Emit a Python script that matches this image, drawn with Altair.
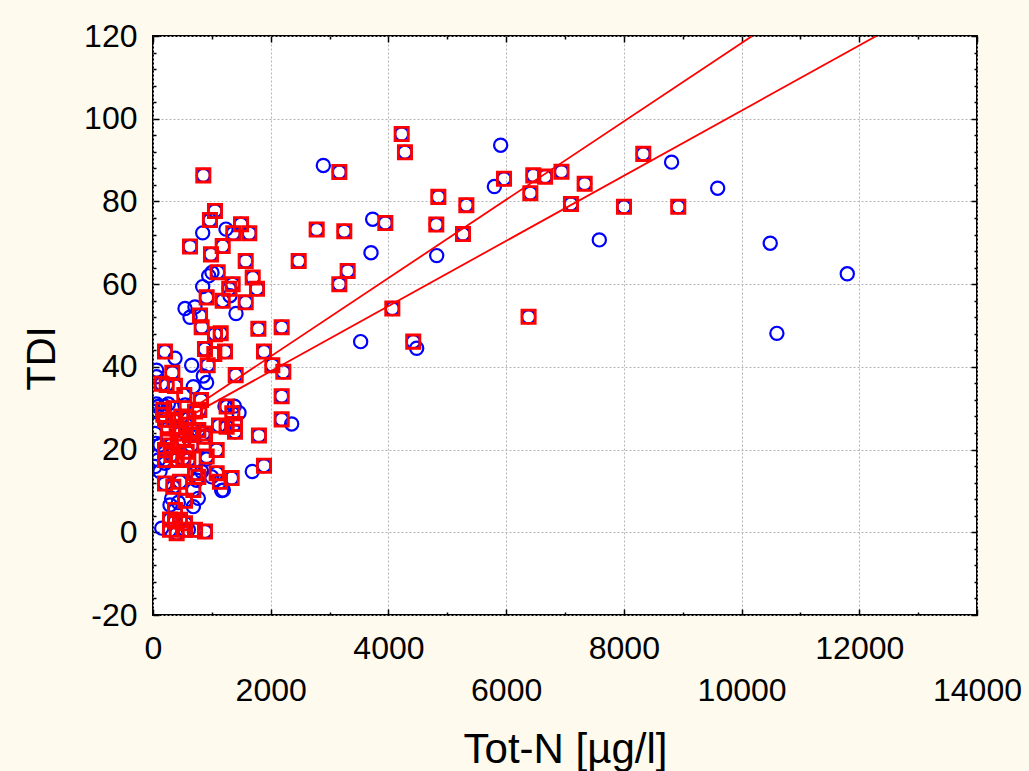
import altair as alt
import pandas as pd

# ---- data ----
# red squares (each one also carries a blue circle)
sq_x = [4225, 4281, 3166, 5964, 6461, 6661, 6940, 6411, 4848, 5324, 3947, 2781, 3250, 4813, 5267,
        2475, 3307, 3166, 4066, 6381, 2186, 1790, 4422, 1886, 2027, 2214, 2186, 2186, 1800, 1886,
        1767, 7334, 7101, 8330, 8002, 8924,
        855, 1053, 968, 1495, 1364, 1636, 629, 1184, 985, 1575, 1099, 1694, 1353, 1295, 912, 1184,
        1575, 799, 827, 1053, 1150,
        204, 883, 1042, 1223, 929, 1405, 328, 147, 232, 374, 532, 815, 714, 787, 1251, 1347, 1121,
        1251, 1393, 1393,
        175, 175, 204, 345, 402, 260, 459, 515, 629, 685, 770, 855, 883, 204, 317, 402, 515, 600,
        572, 204, 204, 345, 459, 685, 912, 1082, 1082, 1138, 1336, 714, 770, 544, 374, 289, 374,
        459, 544, 289, 402, 544, 714, 883,
        300, 420, 560, 650, 480, 250, 600, 350]
sq_y = [96.3, 91.9, 87.1, 85.5, 86.3, 86.0, 87.2, 82.0, 81.1, 79.1, 74.8, 73.2, 72.8, 74.4, 72.1,
        65.6, 63.2, 60.0, 54.1, 52.1, 49.6, 49.2, 46.1, 43.7, 40.4, 38.8, 32.9, 27.3, 23.4, 16.1,
        58.9, 84.3, 79.4, 91.5, 78.7, 78.7,
        86.3, 77.7, 75.5, 74.5, 72.3, 72.3, 69.1, 69.2, 67.2, 65.6, 62.9, 61.6, 60.0, 58.9, 56.8, 56.0,
        55.6, 52.4, 49.6, 47.9, 48.1,
        43.7, 44.3, 43.1, 43.7, 40.4, 38.0, 38.6, 35.9, 35.6, 35.4, 33.2, 32.0, 29.2, 29.6, 30.4, 28.8, 25.8,
        25.5, 26.2, 24.3,
        29.6, 28.4, 27.2, 27.2, 25.5, 25.1, 23.9, 22.3, 23.5, 24.7, 24.7, 23.9, 23.1, 19.9, 18.7, 17.5, 17.9, 17.5,
        19.5, 17.5, 11.8, 11.0, 12.2, 10.2, 18.3, 19.9, 14.3, 12.2, 13.1, 14.3, 13.4, 7.6, 5.4, 3.1, 2.6,
        3.0, 2.2, 0.6, -0.2, 0.6, 0.6, 0.2,
        21.0, 21.5, 26.0, 21.0, 28.0, 22.5, 27.5, 30.0]

# blue circles only
ci_x = [5907, 2894, 5800, 3732, 3704, 4820, 3528, 4480, 2356, 8811, 9594, 7583, 10487, 11796, 10600,
        844, 1240, 1002, 946, 844, 1308, 544, 713, 629, 1410,
        374, 657, 62, 855, 911, 685, 62, 544, 1223, 1382, 1461,
        911, 1687, 1167, 827, 742, 119, 204, 317, 289, 430, 685, 770, 148, 600,
        90, 147, 34, 34, 119, 90, 34, 996, 1195, 60, 200, 260, 50]
ci_y = [93.6, 88.7, 83.6, 75.7, 67.6, 66.9, 46.1, 44.5, 26.2, 89.5, 83.2, 70.7, 69.9, 62.5, 48.1,
        72.4, 73.3, 62.8, 62.0, 59.4, 57.2, 54.1, 54.5, 52.0, 52.9,
        42.1, 40.4, 39.2, 37.8, 36.2, 35.2, 37.6, 30.8, 30.5, 30.5, 28.9,
        17.7, 14.7, 10.1, 14.7, 12.6, 14.7, 16.7, 8.2, 6.6, 7.2, 6.2, 8.2, 1.0, 0.6,
        30.4, 29.6, 29.2, 23.9, 21.1, 17.5, 15.9, 13.4, 10.2, 31.0, 30.5, 31.0, 21.5]

# two regression lines (end points)
line_a_x = [560, 10180]
line_a_y = [28.9, 120]
line_b_x = [560, 12290]
line_b_y = [27.6, 120]

x_major = list(range(0, 14001, 2000))
x_minor = list(range(1000, 14000, 2000))
y_major = list(range(-20, 121, 20))
y_minor = [v for v in range(-20, 121, 4) if v % 20 != 0]

# ---- tables ----
circles = pd.DataFrame({"x": sq_x + ci_x, "y": sq_y + ci_y})
squares = pd.DataFrame({"x": sq_x, "y": sq_y})
lines = pd.DataFrame({
    "x": line_a_x + line_b_x,
    "y": line_a_y + line_b_y,
    "g": ["a"] * len(line_a_x) + ["b"] * len(line_b_x),
})

W, H = 824, 579
FONT = "Liberation Sans"
xs = alt.Scale(domain=[0, 14000], nice=False, zero=False)
ys = alt.Scale(domain=[-20, 120], nice=False, zero=False)


def tick_axis(orient, offset, values, size):
    return alt.Axis(orient=orient, offset=offset, values=values, labels=False, ticks=True,
                    tickSize=size, tickColor="black", tickWidth=1.5, domain=False, grid=False,
                    title=None)


grid_common = dict(grid=True, gridColor="#b4b4b4", gridDash=[2, 2], gridWidth=1)

ax_x1 = alt.Axis(orient="bottom", values=x_major, ticks=False, tickSize=0, domain=False,
                 labelExpr="datum.value % 4000 == 0 ? '' + datum.value : ''",
                 labelFont=FONT, labelFontSize=32, labelColor="black", labelPadding=18,
                 labelFlush=False, labelOverlap=False,
                 title="Tot-N [µg/l]", titleFont=FONT, titleFontSize=42, titleFontWeight="normal",
                 titleColor="black", titleX=412, titleY=147, titleAlign="center",
                 titleBaseline="alphabetic", **grid_common)
ax_x2 = alt.Axis(orient="bottom", values=x_major, ticks=False, tickSize=0, domain=False, grid=False,
                 labelExpr="datum.value % 4000 == 2000 ? '' + datum.value : ''",
                 labelFont=FONT, labelFontSize=32, labelColor="black", labelPadding=60,
                 labelFlush=False, labelOverlap=False, title=None)
ax_y1 = alt.Axis(orient="left", values=y_major, ticks=False, tickSize=0, domain=False,
                 labelExpr="'' + datum.value",
                 labelFont=FONT, labelFontSize=32, labelColor="black", labelPadding=16,
                 labelFlush=False, labelOverlap=False,
                 title="TDI", titleFont=FONT, titleFontSize=40, titleFontWeight="normal",
                 titleColor="black", titleAngle=270, titleX=-111, titleY=322, titleAlign="center",
                 titleBaseline="middle", **grid_common)

base_circ = alt.Chart(circles)

layer_circles = base_circ.mark_point(shape="circle", filled=False, size=175, strokeWidth=2.2,
                                     color="#0000ff", opacity=1, clip=True).encode(
    x=alt.X("x:Q", scale=xs, axis=ax_x1),
    y=alt.Y("y:Q", scale=ys, axis=ax_y1),
)

layer_squares = alt.Chart(squares).mark_point(shape="square", filled=False, size=175, strokeWidth=2.8,
                                              color="#ff0000", opacity=1, clip=True).encode(
    x=alt.X("x:Q", scale=xs, axis=ax_x2),
    y=alt.Y("y:Q", scale=ys, axis=tick_axis("right", -W, y_major, 6)),
)

layer_lines = alt.Chart(lines).mark_line(color="#ff0000", strokeWidth=1.8, clip=True).encode(
    x=alt.X("x:Q", scale=xs, axis=tick_axis("top", -H, x_major, 6)),
    y=alt.Y("y:Q", scale=ys, axis=tick_axis("right", -W, y_minor, 3)),
    detail="g:N",
)

dummy1 = base_circ.mark_point(opacity=0).encode(
    x=alt.X("x:Q", scale=xs, axis=tick_axis("top", -H, x_minor, 3)),
    y=alt.Y("y:Q", scale=ys, axis=tick_axis("left", -W, y_major, 6)),
)
dummy2 = base_circ.mark_point(opacity=0).encode(
    x=alt.X("x:Q", scale=xs, axis=tick_axis("bottom", -H, x_major, 6)),
    y=alt.Y("y:Q", scale=ys, axis=tick_axis("left", -W, y_minor, 3)),
)
dummy3 = base_circ.mark_point(opacity=0).encode(
    x=alt.X("x:Q", scale=xs, axis=tick_axis("bottom", -H, x_minor, 3)),
    y=alt.Y("y:Q", scale=ys, axis=None),
)

chart = alt.layer(layer_circles, layer_squares, layer_lines, dummy1, dummy2, dummy3).resolve_axis(
    x="independent", y="independent"
).properties(
    width=W, height=H,
    padding={"left": 153, "top": 36, "right": 52, "bottom": 156},
    autosize=alt.AutoSizeParams(type="none"),
    background="#fefaed",
).configure_view(
    stroke="black", strokeWidth=2, fill="white"
)

chart.save("out.html", embed_options={"renderer": "svg", "actions": False})
